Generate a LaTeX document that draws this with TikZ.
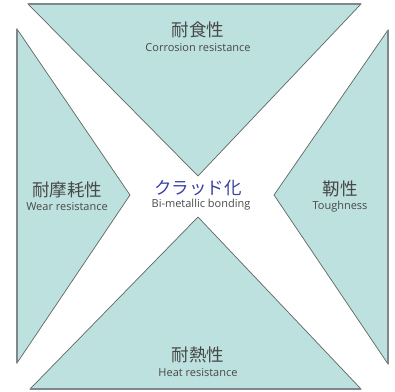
\documentclass[tikz,border=0pt]{standalone}
\usepackage{fontspec}
\setmainfont{Noto Sans CJK JP}
\newfontfamily\jpfont{Noto Sans CJK JP}
\newfontfamily\enfont{Open Sans}
\definecolor{tealfill}{HTML}{BDE1DE}
\definecolor{edgegray}{HTML}{5F6566}
\definecolor{outergray}{HTML}{80878A}
\definecolor{textgray}{HTML}{474949}
\definecolor{clad}{HTML}{3A40A6}
\begin{document}
\begin{tikzpicture}[x=1pt,y=-1pt,
  tri/.style={fill=tealfill,draw=edgegray,line width=0.7pt,line join=miter},
  outer/.style={draw=outergray,line width=1.8pt},
  jp/.style={font=\jpfont\fontsize{17.5}{19}\selectfont,text=textgray,inner sep=0pt},
  en/.style={font=\enfont\fontsize{11}{13}\selectfont,text=textgray,inner sep=0pt},
  jpb/.style={font=\jpfont\fontsize{17.5}{19}\selectfont,text=clad,inner sep=0pt}]
\useasboundingbox (0,0) rectangle (395,391);
% triangles
\coordinate (tA) at (28,4);  \coordinate (tB) at (361,4);  \coordinate (tC) at (198,176);
\coordinate (lA) at (17,29); \coordinate (lB) at (17,363); \coordinate (lC) at (130,195);
\coordinate (rA) at (388,30);\coordinate (rB) at (388,364);\coordinate (rC) at (274,195);
\coordinate (bA) at (30,389);\coordinate (bB) at (361,389);\coordinate (bC) at (198,217);
\path[tri] (tA) -- (tB) -- (tC) -- cycle;
\path[tri] (lA) -- (lB) -- (lC) -- cycle;
\path[tri] (rA) -- (rB) -- (rC) -- cycle;
\path[tri] (bA) -- (bB) -- (bC) -- cycle;
\draw[outer] (tA) -- (tB);
\draw[outer] (lA) -- (lB);
\draw[outer] (rA) -- (rB);
\draw[outer] (bA) -- (bB);
% labels
\node[jp] (top) at (198,30) {耐食性};
\node[en] (topen) at (198,48) {Corrosion resistance};
\node[jp] (left) at (67,190) {耐摩耗性};
\node[en] (leften) at (67,207) {Wear resistance};
\node[jpb] (mid) at (198,188) {クラッド化};
\node[en] (miden) at (201,205) {Bi-metallic bonding};
\node[jp] (right) at (340,189) {靭性};
\node[en] (righten) at (340,207) {Toughness};
\node[jp] (bot) at (198,355) {耐熱性};
\node[en] (boten) at (198,373) {Heat resistance};
\end{tikzpicture}
\end{document}
